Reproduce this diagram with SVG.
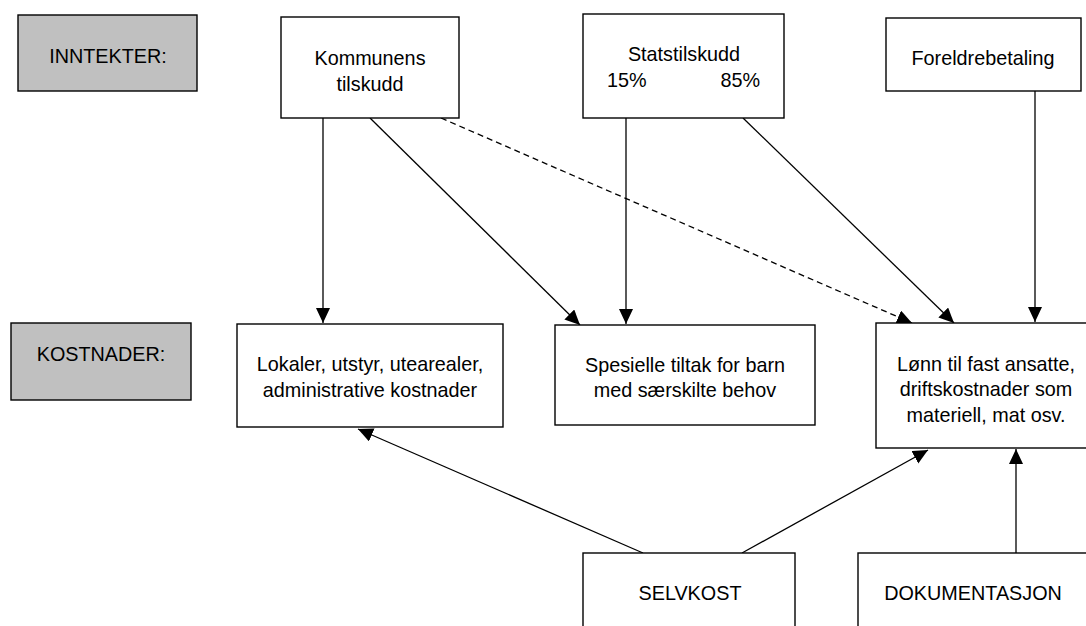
<svg xmlns="http://www.w3.org/2000/svg" width="1086" height="626" viewBox="0 0 1086 626">
<style>
.box{fill:#fff;stroke:#000;stroke-width:1.4}
.lbl{fill:#c0c0c0;stroke:#000;stroke-width:1.4}
text{font-family:"Liberation Sans",Arial,sans-serif;font-size:19.8px;fill:#000;text-anchor:middle}
.ln{stroke:#000;stroke-width:1.3;fill:none;marker-end:url(#ah)}
.dash{stroke-dasharray:6 4}
</style>
<defs>
<marker id="ah" markerUnits="userSpaceOnUse" markerWidth="16" markerHeight="16" refX="15" refY="7" orient="auto">
<path d="M0,0 L15,7 L0,14 z" fill="#000"/>
</marker>
</defs>
<rect width="1086" height="626" fill="#fff"/>
<g id="connectors">
<line class="ln" x1="323" y1="118" x2="323" y2="323"/>
<line class="ln" x1="370" y1="118" x2="580" y2="325"/>
<line class="ln dash" x1="441" y1="118" x2="912" y2="323"/>
<line class="ln" x1="626" y1="118" x2="626" y2="324"/>
<line class="ln" x1="743" y1="118" x2="954" y2="323"/>
<line class="ln" x1="1035" y1="91" x2="1035" y2="322"/>
<line class="ln" x1="643" y1="553" x2="358" y2="429"/>
<line class="ln" x1="742" y1="553" x2="928" y2="450"/>
<line class="ln" x1="1016" y1="553" x2="1016" y2="449"/>
</g>
<g id="inntekter"><rect class="lbl" x="18" y="15" width="179" height="76"/><text x="108" y="63">INNTEKTER:</text></g>
<g id="kostnader"><rect class="lbl" x="11" y="323" width="180" height="77"/><text x="101" y="361">KOSTNADER:</text></g>
<g id="kommunens"><rect class="box" x="281" y="17" width="178" height="101"/><text x="370" y="65">Kommunens</text><text x="370" y="91">tilskudd</text></g>
<g id="statstilskudd"><rect class="box" x="583" y="14" width="201" height="104"/><text x="684" y="61">Statstilskudd</text><text x="607" y="87" style="text-anchor:start">15%</text><text x="760" y="87" style="text-anchor:end">85%</text></g>
<g id="foreldrebetaling"><rect class="box" x="886" y="18" width="195" height="73"/><text x="983" y="65">Foreldrebetaling</text></g>
<g id="lokaler"><rect class="box" x="237" y="324" width="266" height="103"/><text x="370" y="371">Lokaler, utstyr, utearealer,</text><text x="370" y="397">administrative kostnader</text></g>
<g id="spesielle"><rect class="box" x="555" y="325" width="260" height="100"/><text x="685" y="372">Spesielle tiltak for barn</text><text x="685" y="397">med særskilte behov</text></g>
<g id="lonn"><rect class="box" x="876" y="323" width="220" height="125"/><text x="986" y="371">Lønn til fast ansatte,</text><text x="986" y="396">driftskostnader som</text><text x="986" y="422">materiell, mat osv.</text></g>
<g id="selvkost"><rect class="box" x="583" y="553" width="212" height="90"/><text x="690" y="600">SELVKOST</text></g>
<g id="dokumentasjon"><rect class="box" x="858" y="553" width="230" height="90"/><text x="973" y="600">DOKUMENTASJON</text></g>
</svg>
